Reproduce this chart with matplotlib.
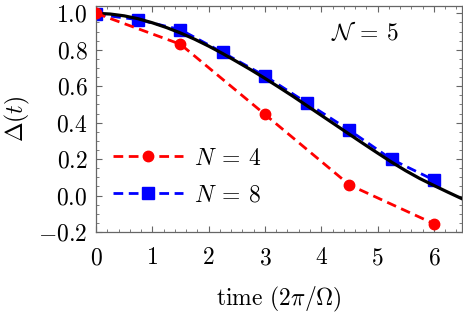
import matplotlib
matplotlib.use("Agg")
import matplotlib.pyplot as plt
from matplotlib.ticker import MultipleLocator, FixedLocator, FixedFormatter

plt.rcParams['mathtext.fontset'] = 'cm'
plt.rcParams['font.family'] = 'serif'
plt.rcParams['font.serif'] = ['cmr10', 'DejaVu Serif']
plt.rcParams['axes.formatter.use_mathtext'] = True

# data
t_red = [0, 1.5, 3.0, 4.5, 6.0]
d_red = [1.0, 0.83, 0.445, 0.058, -0.155]
t_blue = [0, 0.75, 1.5, 2.25, 3.0, 3.75, 4.5, 5.25, 6.0]
d_blue = [0.995, 0.965, 0.91, 0.785, 0.656, 0.507, 0.358, 0.198, 0.085]
t_black = [0, 0.25, 0.5, 0.75, 1.0, 1.25, 1.5, 1.75, 2.0, 2.25, 2.5, 2.75, 3.0,
           3.25, 3.5, 3.75, 4.0, 4.25, 4.5, 4.75, 5.0, 5.25, 5.5, 5.75, 6.0, 6.25, 6.5]
d_black = [1.0, 0.996, 0.986, 0.97, 0.948, 0.922, 0.892, 0.858, 0.82, 0.779, 0.735,
           0.69, 0.643, 0.594, 0.544, 0.492, 0.44, 0.388, 0.336, 0.284, 0.233,
           0.183, 0.136, 0.093, 0.055, 0.018, -0.018]
xticks = [0, 1, 2, 3, 4, 5, 6]
xticklabels = ['$0$', '$1$', '$2$', '$3$', '$4$', '$5$', '$6$']
yticks = [-0.2, 0.0, 0.2, 0.4, 0.6, 0.8, 1.0]
yticklabels = ['$-0.2$', '$0.0$', '$0.2$', '$0.4$', '$0.6$', '$0.8$', '$1.0$']

fig = plt.figure(figsize=(4.63, 3.16), dpi=100)
ax = fig.add_axes([0.2073, 0.266, 0.7907, 0.715])

ax.plot(t_black, d_black, color='black', lw=2.3, zorder=3)
ax.plot(t_red, d_red, color='red', ls=(0, (3.5, 2)), lw=2.0, marker='o', ms=7.5,
        label=r'$N\:=\:4$', zorder=4)
ax.plot(t_blue, d_blue, color='blue', ls=(0, (3.5, 2)), lw=2.0, marker='s', ms=9,
        label=r'$N\:=\:8$', zorder=2)

ax.set_xlim(0, 6.5)
ax.set_ylim(-0.2, 1.04)
ax.xaxis.set_major_locator(FixedLocator(xticks))
ax.xaxis.set_major_formatter(FixedFormatter(xticklabels))
ax.yaxis.set_major_locator(FixedLocator(yticks))
ax.yaxis.set_major_formatter(FixedFormatter(yticklabels))
ax.xaxis.set_minor_locator(MultipleLocator(0.2))
ax.yaxis.set_minor_locator(MultipleLocator(0.05))

fc = '0.4'
for s in ax.spines.values():
    s.set_color(fc)
    s.set_linewidth(0.9)
ax.tick_params(which='both', direction='in', top=True, right=True, color=fc,
               labelsize=17, labelcolor='black')
ax.tick_params(which='major', length=4.5, width=0.8)
ax.tick_params(axis='x', which='major', pad=11)
ax.tick_params(axis='y', which='major', pad=6)
ax.tick_params(which='minor', length=2.5, width=0.6)

ax.set_xlabel(r'time $(2\pi/\Omega)$', fontsize=17, labelpad=11)
ax.set_ylabel(r'$\Delta(t)$', fontsize=17, labelpad=5)

ax.text(0.735, 0.88, r'$\mathcal{N}\:=\:5$', transform=ax.transAxes, fontsize=17,
        ha='center', va='center')

leg = ax.legend(loc='lower left', bbox_to_anchor=(0.0, 0.04), frameon=False,
                fontsize=17, handlelength=3.0, handletextpad=0.45, labelspacing=0.62,
                borderaxespad=0.3)

fig.savefig('out.png', dpi=100)
